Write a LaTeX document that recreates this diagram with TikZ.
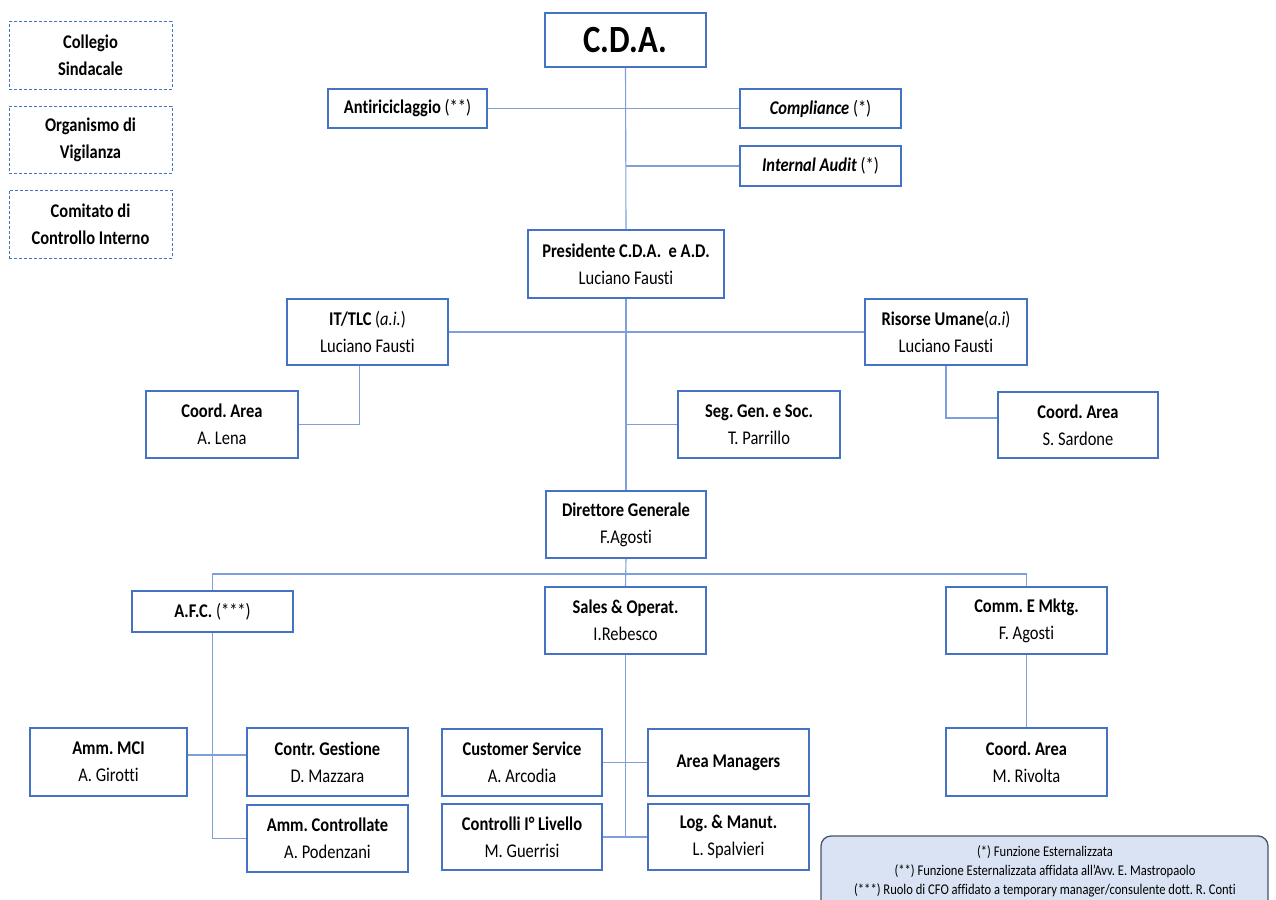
\documentclass[tikz,border=0pt]{standalone}
\usepackage{fontspec}
\setmainfont[Ligatures={NoCommon},FakeStretch=0.85]{Carlito}
\usetikzlibrary{calc}
\definecolor{boxblue}{HTML}{4472C4}
\definecolor{lineblue}{HTML}{7F9FD8}
\definecolor{legfill}{HTML}{DAE3F3}
\definecolor{legdraw}{HTML}{44546A}
\tikzset{
  orgbox/.style={draw=boxblue, line width=1.6pt, fill=white, inner sep=0pt, align=center,
    font=\fontsize{19.4}{27}\selectfont},
  dashbox/.style={draw=boxblue, line width=1pt, dash pattern=on 3pt off 2pt, inner sep=0pt, align=center,
    font=\fontsize{19.4}{27}\selectfont},
  conn/.style={draw=lineblue, line width=1.1pt},
}
\newcommand{\orgnode}[6]{\node[orgbox, minimum width=#4pt, minimum height=#5pt] (#1) at (#2,#3) {#6};}
\begin{document}
\frenchspacing
\begin{tikzpicture}[x=1pt,y=-1pt]
\useasboundingbox (0,0) rectangle (1276,899);
\clip (0,0) rectangle (1276,899);
\fill[white] (0,0) rectangle (1276,899);

% dashed boxes
\node[dashbox, minimum width=163pt, minimum height=67pt] (coll) at (90.5,55.5) {\textbf{Collegio}\\\textbf{Sindacale}};
\node[dashbox, minimum width=163pt, minimum height=67pt] (odv) at (90.5,139.5) {\textbf{Organismo di}\\\textbf{Vigilanza}};
\node[dashbox, minimum width=163pt, minimum height=68pt] (cci) at (90.5,224) {\textbf{Comitato di}\\\textbf{Controllo Interno}};

\coordinate (bus) at (626,574);

% nodes
\orgnode{cda}{625.5}{40}{161}{54}{\fontsize{38.5}{40}\selectfont\textbf{C.D.A.}}
\orgnode{anti}{407.5}{108.5}{159}{39}{\textbf{Antiriciclaggio} (**)}
\orgnode{comp}{820.5}{108.5}{161}{39}{\textbf{\textit{Compliance}} (*)}
\orgnode{ia}{820.5}{166}{161}{40}{\textbf{\textit{Internal Audit}} (*)}
\orgnode{pres}{626}{264}{196}{68}{\textbf{Presidente C.D.A.\ \ e A.D.}\\Luciano Fausti}
\orgnode{it}{367.5}{332}{161}{66}{\textbf{IT/TLC} (\textit{a.i.})\\Luciano Fausti}
\orgnode{hr}{946}{332}{162}{66}{\textbf{Risorse Umane}(\textit{a.i})\\Luciano Fausti}
\orgnode{lena}{222}{424.5}{152}{67}{\textbf{Coord. Area}\\A. Lena}
\orgnode{seg}{759}{424.5}{162}{67}{\textbf{Seg. Gen. e Soc.}\\T. Parrillo}
\orgnode{sard}{1078}{425}{160}{66}{\textbf{Coord. Area}\\S. Sardone}
\orgnode{dg}{626}{524.5}{160}{67}{\textbf{Direttore Generale}\\F.Agosti}
\orgnode{afc}{212.5}{611.5}{161}{41}{\textbf{A.F.C.} (***)}
\orgnode{sales}{625.5}{620.5}{161}{67}{\textbf{Sales \& Operat.}\\I.Rebesco}
\orgnode{comm}{1026.5}{620.5}{161}{67}{\textbf{Comm. E Mktg.}\\F. Agosti}
\orgnode{mci}{108.5}{762}{157}{68}{\textbf{Amm. MCI}\\A. Girotti}
\orgnode{cg}{327.5}{762}{161}{68}{\textbf{Contr. Gestione}\\D. Mazzara}
\orgnode{ammc}{327.5}{838.5}{161}{67}{\textbf{Amm. Controllate}\\A. Podenzani}
\orgnode{cs}{522}{762.5}{160}{67}{\textbf{Customer Service}\\A. Arcodia}
\orgnode{am}{728.5}{762.5}{161}{67}{\textbf{Area Managers}}
\orgnode{ctrl}{522}{837}{160}{66}{\textbf{Controlli I° Livello}\\M. Guerrisi}
\orgnode{log}{728.5}{837}{161}{66}{\textbf{Log. \& Manut.}\\L. Spalvieri}
\orgnode{riv}{1026.5}{762}{161}{68}{\textbf{Coord. Area}\\M. Rivolta}

% connectors
\draw[conn] (cda.south) -- (pres.north);
\draw[conn] (anti.east) -- (comp.west);
\draw[conn] (ia.west) -- (ia.west -| cda.south);
\draw[conn] (pres.south) -- (dg.north);
\draw[conn] (it.east) -- (hr.west);
\draw[conn] ([xshift=-8pt]it.south) |- (lena.east);
\draw[conn] (hr.south) |- ([yshift=7pt]sard.west);
\draw[conn] (seg.west) -- (seg.west -| pres.south);
\draw[conn] (dg.south) -- (sales.north);
\draw[conn] (afc.north) |- (bus) -| (comm.north);
\draw[conn] (afc.south) |- (ammc.west);
\draw[conn] ([yshift=7pt]mci.east) -- ([yshift=7pt]cg.west);
\draw[conn] (sales.south) -- (sales.south |- ctrl.east);
\draw[conn] (cs.east) -- (am.west);
\draw[conn] (ctrl.east) -- (log.west);
\draw[conn] (comm.south) -- (riv.north);

% legend
\draw[draw=legdraw, fill=legfill, line width=1.3pt, rounded corners=10pt] (821,836) rectangle (1268,930);
\node[font=\fontsize{14.8}{19.3}\selectfont, align=center, inner sep=0pt] (leg) at (1045,871.5)
 {(*) Funzione Esternalizzata\\(**) Funzione Esternalizzata affidata all’Avv. E. Mastropaolo\\(***) Ruolo di CFO affidato a temporary manager/consulente dott. R. Conti};
\end{tikzpicture}
\end{document}
